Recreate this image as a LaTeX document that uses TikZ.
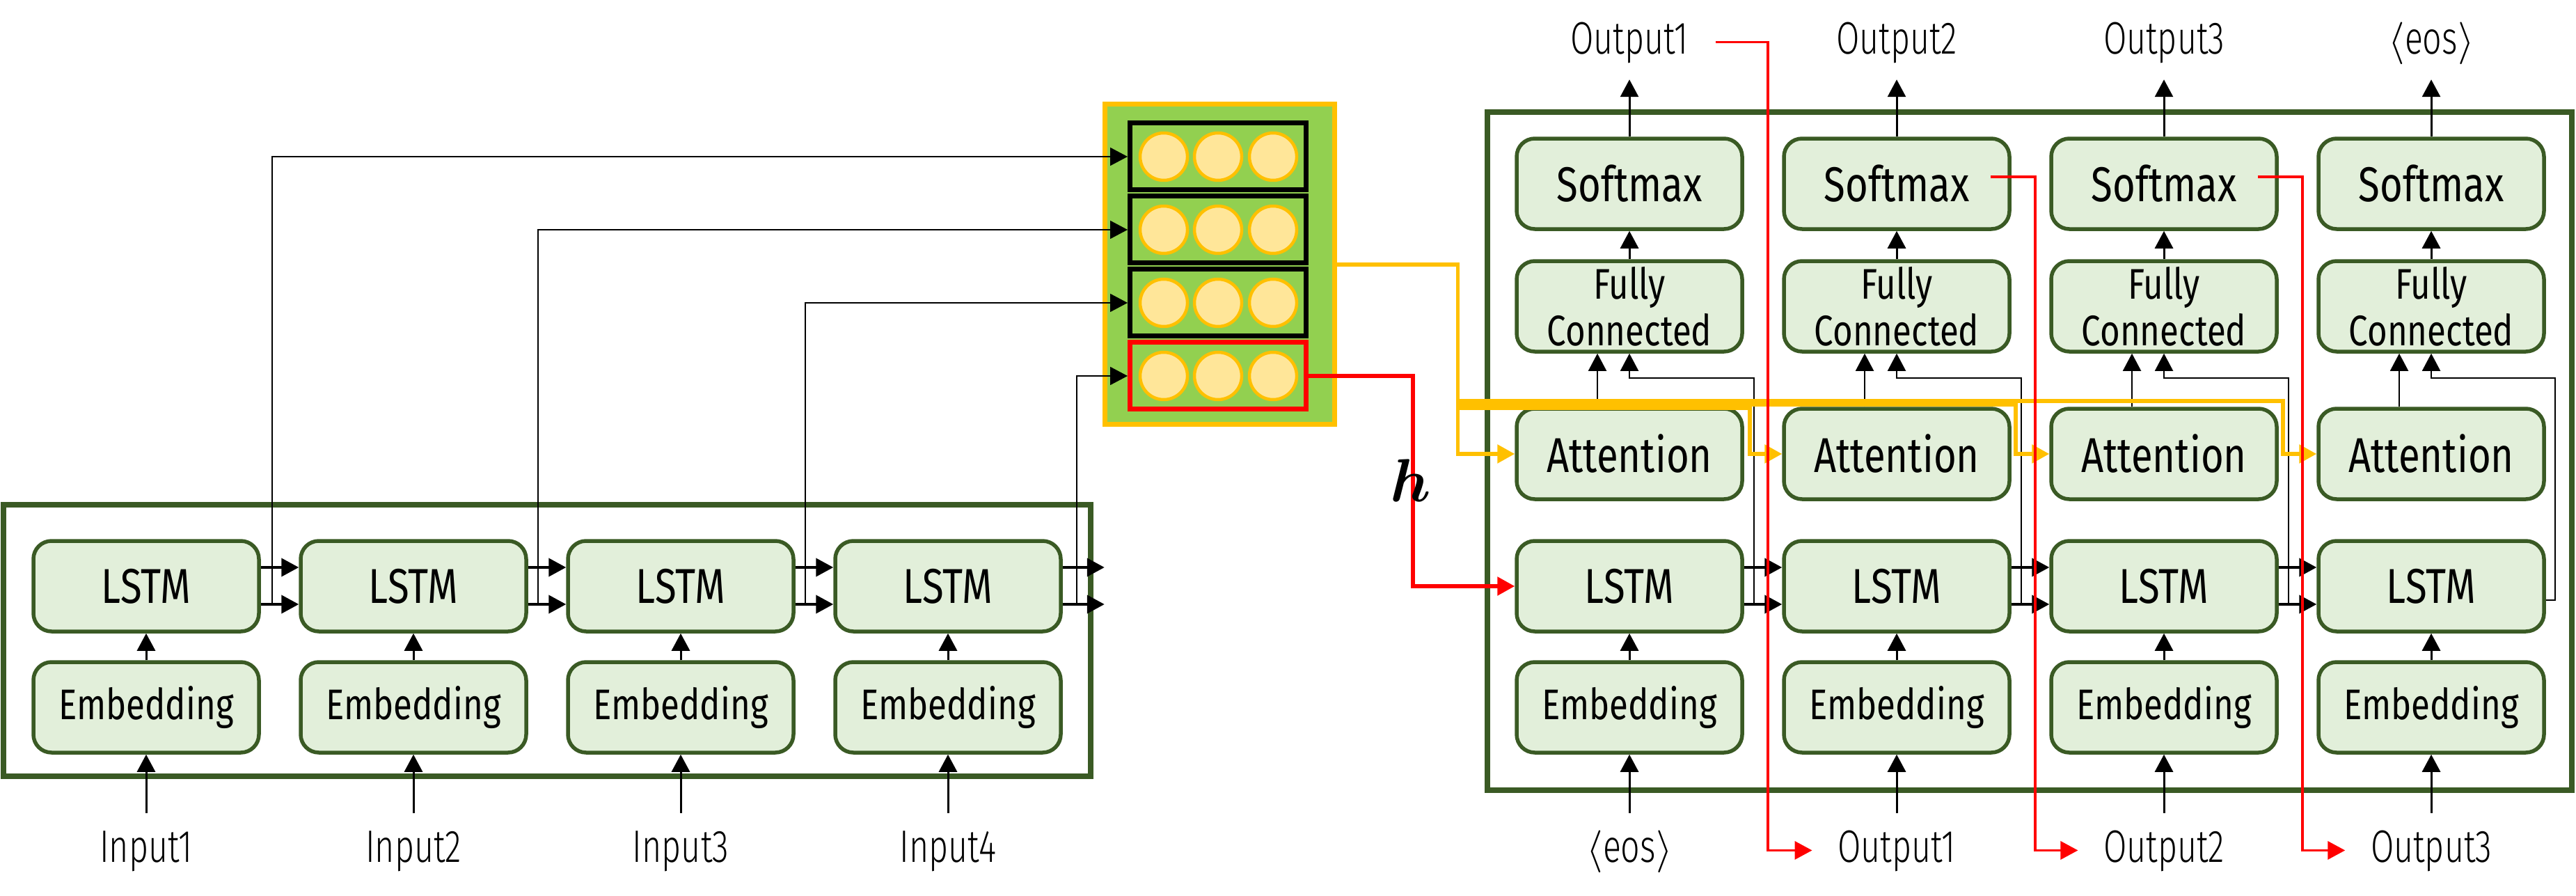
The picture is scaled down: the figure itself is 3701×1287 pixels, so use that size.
\documentclass[tikz,border=0pt]{standalone}
\usepackage{amsmath}
\usepackage{fontspec}
\setmainfont{Fira Sans}[FakeStretch=0.8]
\newfontfamily\lightfont{Fira Sans Light}[FakeStretch=0.74]
\usetikzlibrary{positioning,arrows.meta}

\definecolor{dkgreen}{HTML}{3A5A24}
\definecolor{ltgreen}{HTML}{E2EFDA}
\definecolor{memgreen}{HTML}{92D050}
\definecolor{gold}{HTML}{FFC000}
\definecolor{cellfill}{HTML}{FFE699}

\tikzset{
  block/.style={draw=dkgreen, fill=ltgreen, line width=0.55mm, rounded corners=2.6mm,
    minimum width=32.4mm, minimum height=13mm, inner sep=0pt, align=center,
    font=\fontsize{20}{20}\selectfont},
  smallblock/.style={block, font=\fontsize{17.5}{19}\selectfont},
  lbl/.style={inner sep=0pt, text height=4.6mm, text depth=1.2mm,
    font=\lightfont\fontsize{18.6}{20}\selectfont},
  bigbox/.style={draw=dkgreen, line width=0.8mm},
  membox/.style={draw=gold, fill=memgreen, line width=0.7mm, minimum width=33mm, minimum height=46mm},
  memrow/.style={draw=black, line width=0.7mm, minimum width=25.3mm, minimum height=9.6mm},
  cell/.style={circle, draw=gold, fill=cellfill, line width=0.45mm, minimum size=6.8mm, inner sep=0pt},
  tip/.style={-{Triangle[length=2.5mm,width=2.6mm]}},
  chain/.style={tip, line width=0.4mm},
  inarrow/.style={tip, line width=0.3mm},
  thinarrow/.style={tip, line width=0.18mm},
  yelarrow/.style={-{Triangle[length=2.5mm,width=2.6mm,fill=gold]}, draw=gold, line width=0.55mm},
  redarrow/.style={-{Triangle[length=2.5mm,width=2.6mm,fill=red]}, draw=red, line width=0.35mm}
}

\begin{document}
\begin{tikzpicture}[x=0.1mm, y=-0.1mm]
    \useasboundingbox (0,0) rectangle (3701,1287);

    % outer frames
    \draw[bigbox] (5,725) rectangle (1567,1115);
    \draw[bigbox] (2137,161) rectangle (3695,1135);

    % encoder
    \node[block] (enclstm1) at (210,842) {LSTM};
    \node[block, right=5.45mm of enclstm1] (enclstm2) {LSTM};
    \node[block, right=5.45mm of enclstm2] (enclstm3) {LSTM};
    \node[block, right=5.45mm of enclstm3] (enclstm4) {LSTM};
    \node[smallblock, below=3.85mm of enclstm1] (encemb1) {Embedding};
    \node[smallblock, below=3.85mm of enclstm2] (encemb2) {Embedding};
    \node[smallblock, below=3.85mm of enclstm3] (encemb3) {Embedding};
    \node[smallblock, below=3.85mm of enclstm4] (encemb4) {Embedding};
    \node[lbl, below=10.8mm of encemb1] (in1) {Input1};
    \node[lbl, below=10.8mm of encemb2] (in2) {Input2};
    \node[lbl, below=10.8mm of encemb3] (in3) {Input3};
    \node[lbl, below=10.8mm of encemb4] (in4) {Input4};

    % memory of encoder states
    \node[membox] (mem) at (1752,380) {};
    \node[memrow] (row1) at (1750,225) {};
    \node[memrow] (row2) at (1750,330) {};
    \node[memrow] (row3) at (1750,435) {};
    \node[memrow, draw=red] (row4) at (1750,540) {};
    \node[cell] (c11) at ([xshift=-7.8mm]row1.center) {}; \node[cell] (c12) at (row1.center) {}; \node[cell] (c13) at ([xshift=7.9mm]row1.center) {};
    \node[cell] (c21) at ([xshift=-7.8mm]row2.center) {}; \node[cell] (c22) at (row2.center) {}; \node[cell] (c23) at ([xshift=7.9mm]row2.center) {};
    \node[cell] (c31) at ([xshift=-7.8mm]row3.center) {}; \node[cell] (c32) at (row3.center) {}; \node[cell] (c33) at ([xshift=7.9mm]row3.center) {};
    \node[cell] (c41) at ([xshift=-7.8mm]row4.center) {}; \node[cell] (c42) at (row4.center) {}; \node[cell] (c43) at ([xshift=7.9mm]row4.center) {};

    % decoder
    \node[block] (declstm1) at (2341,842) {LSTM};
    \node[block, right=5.45mm of declstm1] (declstm2) {LSTM};
    \node[block, right=5.45mm of declstm2] (declstm3) {LSTM};
    \node[block, right=5.45mm of declstm3] (declstm4) {LSTM};
    \node[smallblock, below=3.85mm of declstm1] (decemb1) {Embedding};
    \node[smallblock, below=3.85mm of declstm2] (decemb2) {Embedding};
    \node[smallblock, below=3.85mm of declstm3] (decemb3) {Embedding};
    \node[smallblock, below=3.85mm of declstm4] (decemb4) {Embedding};
    \node[block, above=5.45mm of declstm1] (att1) {Attention};
    \node[block, above=5.45mm of declstm2] (att2) {Attention};
    \node[block, above=5.45mm of declstm3] (att3) {Attention};
    \node[block, above=5.45mm of declstm4] (att4) {Attention};
    \node[smallblock, above=7.65mm of att1] (fc1) {Fully\\Connected};
    \node[smallblock, above=7.65mm of att2] (fc2) {Fully\\Connected};
    \node[smallblock, above=7.65mm of att3] (fc3) {Fully\\Connected};
    \node[smallblock, above=7.65mm of att4] (fc4) {Fully\\Connected};
    \node[block, above=4.05mm of fc1] (sm1) {Softmax};
    \node[block, above=4.05mm of fc2] (sm2) {Softmax};
    \node[block, above=4.05mm of fc3] (sm3) {Softmax};
    \node[block, above=4.05mm of fc4] (sm4) {Softmax};
    \node[lbl, above=10.6mm of sm1] (out1) {Output1};
    \node[lbl, above=10.6mm of sm2] (out2) {Output2};
    \node[lbl, above=10.6mm of sm3] (out3) {Output3};
    \node[lbl, above=10.6mm of sm4] (out4) {$\langle$eos$\rangle$};
    \node[lbl, below=10.8mm of decemb1] (bin1) {$\langle$eos$\rangle$};
    \node[lbl, below=10.8mm of decemb2] (bin2) {Output1};
    \node[lbl, below=10.8mm of decemb3] (bin3) {Output2};
    \node[lbl, below=10.8mm of decemb4] (bin4) {Output3};

    % encoder connections
    \draw[inarrow] ([yshift=2.4mm]in1.north) -- (encemb1.south);
    \draw[inarrow] ([yshift=2.4mm]in2.north) -- (encemb2.south);
    \draw[inarrow] ([yshift=2.4mm]in3.north) -- (encemb3.south);
    \draw[inarrow] ([yshift=2.4mm]in4.north) -- (encemb4.south);
    \draw[inarrow] (encemb1) -- (enclstm1);
    \draw[inarrow] (encemb2) -- (enclstm2);
    \draw[inarrow] (encemb3) -- (enclstm3);
    \draw[inarrow] (encemb4) -- (enclstm4);
    \draw[chain] ([yshift=2.7mm]enclstm1.east) -- ([yshift=2.7mm]enclstm2.west);
    \draw[chain] ([yshift=-2.6mm]enclstm1.east) -- ([yshift=-2.6mm]enclstm2.west);
    \draw[chain] ([yshift=2.7mm]enclstm2.east) -- ([yshift=2.7mm]enclstm3.west);
    \draw[chain] ([yshift=-2.6mm]enclstm2.east) -- ([yshift=-2.6mm]enclstm3.west);
    \draw[chain] ([yshift=2.7mm]enclstm3.east) -- ([yshift=2.7mm]enclstm4.west);
    \draw[chain] ([yshift=-2.6mm]enclstm3.east) -- ([yshift=-2.6mm]enclstm4.west);
    \draw[chain] ([yshift=2.7mm]enclstm4.east) -- ++(60,0);
    \draw[chain] ([yshift=-2.6mm]enclstm4.east) -- ++(60,0);
    \draw[thinarrow] ([xshift=1.6mm,yshift=-2.6mm]enclstm1.east) |- (row1.west);
    \draw[thinarrow] ([xshift=1.4mm,yshift=-2.6mm]enclstm2.east) |- (row2.west);
    \draw[thinarrow] ([xshift=1.4mm,yshift=-2.6mm]enclstm3.east) |- (row3.west);
    \draw[thinarrow] ([xshift=2mm,yshift=-2.6mm]enclstm4.east) |- (row4.west);

    % decoder connections
    \draw[inarrow] ([yshift=2.4mm]bin1.north) -- (decemb1.south);
    \draw[inarrow] ([yshift=2.4mm]bin2.north) -- (decemb2.south);
    \draw[inarrow] ([yshift=2.4mm]bin3.north) -- (decemb3.south);
    \draw[inarrow] ([yshift=2.4mm]bin4.north) -- (decemb4.south);
    \draw[inarrow] (decemb1) -- (declstm1);
    \draw[inarrow] (decemb2) -- (declstm2);
    \draw[inarrow] (decemb3) -- (declstm3);
    \draw[inarrow] (decemb4) -- (declstm4);
    \draw[chain] ([yshift=2.7mm]declstm1.east) -- ([yshift=2.7mm]declstm2.west);
    \draw[chain] ([yshift=-2.6mm]declstm1.east) -- ([yshift=-2.6mm]declstm2.west);
    \draw[chain] ([yshift=2.7mm]declstm2.east) -- ([yshift=2.7mm]declstm3.west);
    \draw[chain] ([yshift=-2.6mm]declstm2.east) -- ([yshift=-2.6mm]declstm3.west);
    \draw[chain] ([yshift=2.7mm]declstm3.east) -- ([yshift=2.7mm]declstm4.west);
    \draw[chain] ([yshift=-2.6mm]declstm3.east) -- ([yshift=-2.6mm]declstm4.west);
    \draw[thinarrow] ([xshift=1.4mm,yshift=-2.6mm]declstm1.east) |- ([yshift=-3.5mm]fc1.south) -- (fc1.south);
    \draw[thinarrow] ([xshift=1.4mm,yshift=-2.6mm]declstm2.east) |- ([yshift=-3.5mm]fc2.south) -- (fc2.south);
    \draw[thinarrow] ([xshift=1.4mm,yshift=-2.6mm]declstm3.east) |- ([yshift=-3.5mm]fc3.south) -- (fc3.south);
    \draw[thinarrow] ([yshift=-2mm]declstm4.east) -- ++(13,0) |- ([yshift=-3.5mm]fc4.south) -- (fc4.south);
    \draw[thinarrow] ([xshift=-4.6mm]att1.north) -- ([xshift=-4.6mm]fc1.south);
    \draw[thinarrow] ([xshift=-4.6mm]att2.north) -- ([xshift=-4.6mm]fc2.south);
    \draw[thinarrow] ([xshift=-4.6mm]att3.north) -- ([xshift=-4.6mm]fc3.south);
    \draw[thinarrow] ([xshift=-4.6mm]att4.north) -- ([xshift=-4.6mm]fc4.south);
    \draw[inarrow] (fc1) -- (sm1);
    \draw[inarrow] (fc2) -- (sm2);
    \draw[inarrow] (fc3) -- (sm3);
    \draw[inarrow] (fc4) -- (sm4);
    \draw[inarrow] (sm1) -- ([yshift=-2.4mm]out1.south);
    \draw[inarrow] (sm2) -- ([yshift=-2.4mm]out2.south);
    \draw[inarrow] (sm3) -- ([yshift=-2.4mm]out3.south);
    \draw[inarrow] (sm4) -- ([yshift=-2.4mm]out4.south);

    % context to attention
    \draw[yelarrow] (mem.east) -- ++(174,0) |- (att1.west);
    \draw[yelarrow] (mem.east) -- ++(174,0) -- ++(0,206) -| ([xshift=0.8mm]att1.east) -- (att2.west);
    \draw[yelarrow] (mem.east) -- ++(174,0) -- ++(0,201) -| ([xshift=0.6mm]att2.east) -- (att3.west);
    \draw[yelarrow] (mem.east) -- ++(174,0) -- ++(0,196) -| ([xshift=0.6mm]att3.east) -- (att4.west);

    % last hidden state and fed-back outputs
    \draw[redarrow, line width=0.55mm] (row4.east) -- ++(150,0) |- (declstm1.west);
    \node[font=\fontsize{23}{23}\selectfont] (hlbl) at (2027,690) {$\boldsymbol{h}$};
    \draw[redarrow] ([xshift=3.8mm]out1.east) -| ([xshift=3.4mm]sm1.east) |- ([xshift=-3.6mm]bin2.west);
    \draw[redarrow] ([xshift=-3mm,yshift=1mm]sm2.east) -- ([xshift=3.4mm,yshift=1mm]sm2.east) |- ([xshift=-3.6mm]bin3.west);
    \draw[redarrow] ([xshift=-3mm,yshift=1mm]sm3.east) -- ([xshift=3.4mm,yshift=1mm]sm3.east) |- ([xshift=-3.6mm]bin4.west);
\end{tikzpicture}
\end{document}
